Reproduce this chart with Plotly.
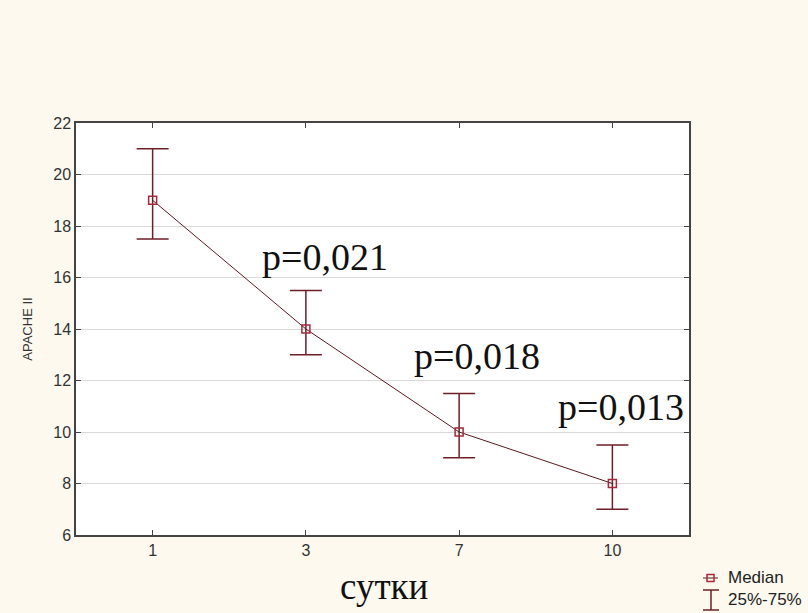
import plotly.graph_objects as go

days = ["1", "3", "7", "10"]
median = [19, 14, 10, 8]
q25 = [17.5, 13, 9, 7]
q75 = [21, 15.5, 11.5, 9.5]
p_labels = ["", "p=0,021", "p=0,018", "p=0,013"]
y_ticks = [6, 8, 10, 12, 14, 16, 18, 20, 22]

L, R, T, B = 76, 689, 123, 535
W, H = 808, 613

def px(x):
    return (x - L) / (R - L)

def py(y):
    return (B - y) / (B - T)

bar_color = "#6e1f28"
line_color = "#5a1a20"
marker_color = "#a8283a"

fig = go.Figure()
fig.add_trace(go.Scatter(
    x=days, y=median, mode="lines+markers",
    line=dict(color=line_color, width=1),
    marker=dict(symbol="square-open", size=8, color=marker_color, line=dict(width=1.5)),
    error_y=dict(type="data", symmetric=False,
                 array=[a - m for a, m in zip(q75, median)],
                 arrayminus=[m - b for m, b in zip(median, q25)],
                 color=bar_color, thickness=1.5, width=16),
    showlegend=False,
))

anns = []
p_pos = {1: (325, 257), 2: (477, 356), 3: (621, 407)}
for i, lab in enumerate(p_labels):
    if lab:
        cx, cy = p_pos[i]
        anns.append(dict(text=lab, xref="paper", yref="paper", x=px(cx), y=py(cy),
                         xanchor="center", yanchor="middle", showarrow=False,
                         font=dict(family="Liberation Serif", size=38, color="#111")))

anns.append(dict(text="сутки", xref="paper", yref="paper", x=px(384), y=py(586),
                 xanchor="center", yanchor="middle", showarrow=False,
                 font=dict(family="Liberation Serif", size=37, color="#111")))

anns.append(dict(text="Median", xref="paper", yref="paper", x=px(726), y=py(577),
                 xanchor="left", yanchor="middle", showarrow=False,
                 font=dict(family="Liberation Sans", size=17, color="#222")))
anns.append(dict(text="25%-75%", xref="paper", yref="paper", x=px(726), y=py(599),
                 xanchor="left", yanchor="middle", showarrow=False,
                 font=dict(family="Liberation Sans", size=17, color="#222")))

shapes = [
    dict(type="line", xref="paper", yref="paper", x0=px(703), x1=px(718), y0=py(578), y1=py(578),
         line=dict(color=line_color, width=1)),
    dict(type="rect", xref="paper", yref="paper", x0=px(707), x1=px(714), y0=py(581.5), y1=py(574.5),
         line=dict(color=marker_color, width=1.5), fillcolor="rgba(0,0,0,0)"),
    dict(type="line", xref="paper", yref="paper", x0=px(711), x1=px(711), y0=py(590), y1=py(610),
         line=dict(color=bar_color, width=1.5)),
    dict(type="line", xref="paper", yref="paper", x0=px(703), x1=px(719), y0=py(590), y1=py(590),
         line=dict(color=bar_color, width=1.5)),
    dict(type="line", xref="paper", yref="paper", x0=px(703), x1=px(719), y0=py(610), y1=py(610),
         line=dict(color=bar_color, width=1.5)),
]

fig.update_layout(
    width=W, height=H,
    margin=dict(l=L, r=W - R, t=T, b=H - B, pad=0),
    paper_bgcolor="#fdf9ee",
    plot_bgcolor="#ffffff",
    annotations=anns,
    shapes=shapes,
    font=dict(family="Liberation Sans", size=16, color="#333"),
)
fig.update_xaxes(
    type="category", range=[-0.5, 3.5],
    showline=True, linecolor="#444", linewidth=1.5, mirror="ticks",
    ticks="inside", ticklen=5, tickcolor="#444",
    showgrid=False, zeroline=False,
    tickfont=dict(size=16, color="#333"),
)
fig.update_yaxes(
    range=[6, 22], tickvals=y_ticks,
    showline=True, linecolor="#444", linewidth=1.5, mirror="ticks",
    ticks="inside", ticklen=5, tickcolor="#444",
    showgrid=True, gridcolor="#d9d9d9", gridwidth=1, zeroline=False,
    tickfont=dict(size=16, color="#333"),
    title=dict(text="APACHE II", font=dict(size=13, color="#333"), standoff=18),
)

fig.write_html("out.html", config={"displayModeBar": False},
               post_script="document.body.style.margin='0px';document.body.style.background='#fdf9ee';")
